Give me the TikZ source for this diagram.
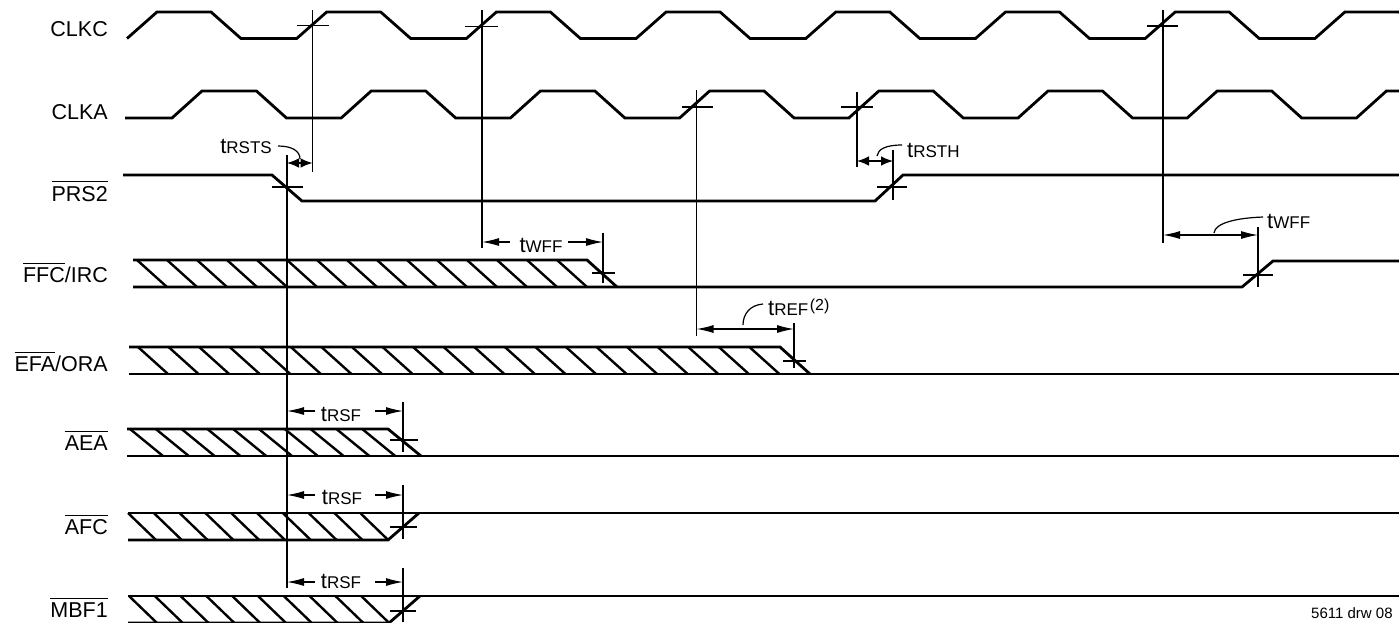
\documentclass[tikz,border=0pt]{standalone}
\usepackage{fontspec}
\setmainfont{Liberation Sans}
\usetikzlibrary{arrows.meta}
\newcommand\ovl[1]{\vbox{\hrule height 1.2pt\kern 3.5pt\hbox{#1}}}
\newcommand\tm[1]{{\fontsize{22}{24}\selectfont t}{\fontsize{17}{19}\selectfont #1}}
\begin{document}
\begin{tikzpicture}[x=1pt,y=-1pt,
  sig/.style={line width=2.8pt, line join=miter},
  hatch/.style={line width=2.4pt},
  thinl/.style={line width=1.2pt},
  lbl/.style={anchor=base east, inner sep=0pt, font=\fontsize{21.5}{24}\selectfont},
  tl/.style={inner sep=0pt},
  dim/.style={line width=1.2pt, {Latex[length=17pt,width=8pt]}-{Latex[length=17pt,width=8pt]}},
  dims/.style={line width=1.2pt, {Latex[length=12pt,width=9.5pt]}-{Latex[length=12pt,width=9.5pt]}},
  half/.style={line width=1.2pt, -{Latex[length=17pt,width=8pt]}},
  lead/.style={line width=1.2pt}]
\useasboundingbox (0,0) rectangle (1399,622);
\clip (0,0) rectangle (1399,622);

% signal names
\node[lbl] (nclkc) at (108,36.7) {CLKC};
\node[lbl] (nclka) at (108,119.7) {CLKA};
\node[lbl] (nprs) at (108,201) {\ovl{PRS2}};
\node[lbl] (nffc) at (108,282.7) {\ovl{FFC}/IRC};
\node[lbl] (nefa) at (108,371.5) {\ovl{EFA}/ORA};
\node[lbl] (naea) at (108,450.7) {\ovl{AEA}};
\node[lbl] (nafc) at (108,534.7) {\ovl{AFC}};
\node[lbl] (nmbf) at (108,617.7) {\ovl{MBF1}};

% clocks
\draw[sig] (127,38.5) \foreach \k in {0,...,7}{ -- ++(30,-26.5) -- ++(54,0) -- ++(30,26.5) -- ++(55.7,0) };
\draw[sig] (125,118) -- (172,118) \foreach \k in {0,...,7}{ -- ++(30,-27) -- ++(54.5,0) -- ++(30,27) -- ++(54.7,0) };

% PRS2
\draw[sig] (123,175) -- (272,175) -- (302,201) -- (875,201) -- (903,175) -- (1399,175);

% FFC/IRC
\foreach \k in {0,...,14} \draw[hatch] ({137+30*\k},260) -- ++(30,27);
\draw[sig] (133,260) -- (587,260) -- (617,287);
\draw[sig] (133,287) -- (1242,287) -- (1273,261) -- (1399,261);

% EFA/ORA
\foreach \k in {0,...,20} \draw[hatch] ({138+30.57*\k},347) -- ++(30,27);
\draw[sig] (129,347) -- (780,347) -- (810,374);
\draw[sig] (129,374) -- (1399,374);

% AEA
\foreach \k in {0,...,9} \draw[hatch] ({130+25.8*\k},429) -- ++(33,27);
\draw[sig] (127,429) -- (388,429) -- (421,456);
\draw[sig] (127,456) -- (1399,456);

% AFC
\foreach \k in {0,...,9} \draw[hatch] ({128+25.8*\k},513) -- ++(28,27);
\draw[sig] (128,513) -- (1399,513);
\draw[sig] (128,540) -- (388,540) -- (419,513);

% MBF1
\foreach \k in {0,...,9} \draw[hatch] ({129+25.8*\k},596) -- ++(28,27);
\draw[sig] (128,596) -- (1399,596);
\draw[sig] (128,623) -- (389,623) -- (420,596);

% reference verticals and cross ticks
\draw[thinl] (312.5,10) -- (312.5,172);  \draw[thinl] (297,25.5) -- (329,25.5);
\draw[thinl] (482,10) -- (482,248);      \draw[thinl] (465,26.5) -- (498,26.5);
\draw[thinl] (696.5,90) -- (696.5,336);  \draw[thinl] (682,107) -- (713,107);
\draw[thinl] (857,92) -- (857,167);      \draw[thinl] (841,107) -- (873,107);
\draw[thinl] (1163,10) -- (1163,243);    \draw[thinl] (1147,26) -- (1178,26);
\draw[thinl] (287,155) -- (287,588);     \draw[thinl] (272,187) -- (303,187);
\draw[thinl] (893,150) -- (893,200);     \draw[thinl] (877,187) -- (907,187);
\draw[thinl] (603,233) -- (603,283);     \draw[thinl] (592,273) -- (615,273);
\draw[thinl] (1258,227) -- (1258,287);   \draw[thinl] (1243,275) -- (1273,275);
\draw[thinl] (794,323) -- (794,368);     \draw[thinl] (783,361) -- (806,361);
\draw[thinl] (403,402) -- (403,452);     \draw[thinl] (390,440) -- (418,440);
\draw[thinl] (403,485) -- (403,539);     \draw[thinl] (390,527) -- (417,527);
\draw[thinl] (403,568) -- (403,622);     \draw[thinl] (390,611) -- (416,611);

% tRSTS
\draw[dims] (287,163) -- (312.5,163);
\node[tl, anchor=base east] (ttrsts) at (272,153) {\tm{RSTS}};
\draw[lead] (278,146) .. controls (292,146) and (300,151) .. (300,159);

% tRSTH
\draw[dims] (857,161) -- (893,161);
\node[tl, anchor=base west] (ttrsth) at (907,157) {\tm{RSTH}};
\draw[lead] (902,145) .. controls (886,145) and (878,149) .. (877,156);

% tWFF (1)
\node[tl, anchor=base] (ttwff1) at (541,252) {\tm{WFF}};
\draw[half] (510,242) -- (482,242);
\draw[half] (568,242) -- (603,242);

% tWFF (2)
\draw[dim] (1163,235) -- (1258,235);
\node[tl, anchor=base west] (ttwff2) at (1267,228) {\tm{WFF}};
\draw[lead] (1263,217) .. controls (1236,218) and (1215,223) .. (1214,233);

% tREF
\draw[dim] (696.5,329) -- (794,329);
\node[tl, anchor=base west] (ttref) at (768,315) {\tm{REF}\kern1.5pt\raisebox{5pt}{\fontsize{16}{18}\selectfont (2)}};
\draw[lead] (763,304) .. controls (750,305) and (743,314) .. (743,325);

% tRSF
\node[tl, anchor=base] (ttrsf1) at (341,421) {\tm{RSF}};
\draw[half] (315,411) -- (287,411);
\draw[half] (375,411) -- (403,411);
\node[tl, anchor=base] (ttrsf2) at (342,504) {\tm{RSF}};
\draw[half] (315,495) -- (287,495);
\draw[half] (375,495) -- (403,495);
\node[tl, anchor=base] (ttrsf3) at (341,588) {\tm{RSF}};
\draw[half] (315,582) -- (287,582);
\draw[half] (375,582) -- (403,582);

% drawing number
\node[tl, anchor=base west, font=\fontsize{15}{17}\selectfont] (dnum) at (1311,618) {5611 drw 08};
\end{tikzpicture}
\end{document}
